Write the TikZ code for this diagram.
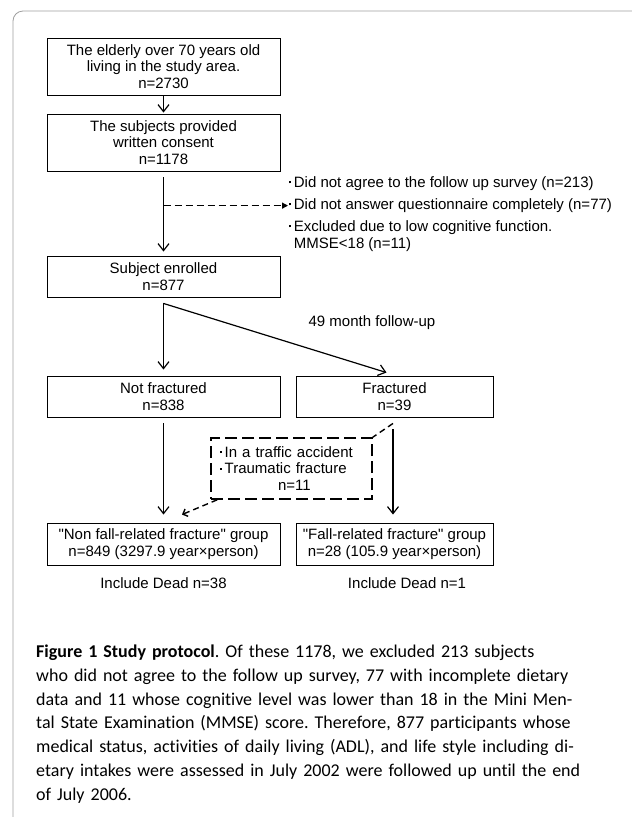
\documentclass[tikz,border=0pt]{standalone}
\usepackage{fontspec}
\setmainfont{Liberation Sans}
\newfontfamily\capfont[Ligatures={NoCommon}]{Carlito}
\usetikzlibrary{arrows.meta,calc}

\newcommand{\bul}{\rule[0.28em]{2.2pt}{2.2pt}\hspace{2.5pt}}

\begin{document}
\frenchspacing
\begin{tikzpicture}[x=1pt,y=-1pt,
  font=\fontsize{15}{16.7}\selectfont,
  box/.style={draw,line width=0.9pt,minimum width=233pt,inner sep=0pt,align=center},
  smallbox/.style={box,minimum width=197pt},
  listtext/.style={anchor=base west,inner sep=0pt},
  dashbox/.style={draw,line width=1.6pt,dash pattern=on 12pt off 5pt,minimum height=61pt,
    text width=143pt,inner xsep=9pt,align=left},
  arr/.style={line width=1.2pt,-{Straight Barb[length=7pt,width=11pt]}},
  dasharr/.style={line width=1.2pt,dash pattern=on 7pt off 4pt,-{Triangle[length=6pt,width=6pt]}},
  dashline/.style={line width=1.4pt,dash pattern=on 6pt off 4pt},
  dasharrtwo/.style={dashline,-{Straight Barb[length=4pt,width=8pt]}}]

\useasboundingbox (0,0) rectangle (632,817);

% Frame
\draw[gray!75,line width=0.8pt,rounded corners=10pt] (632,11) -- (13,11) -- (13,817);

% Boxes
\node[box,minimum height=57pt] (elderly) at (163.5,66.5) {The elderly over 70 years old\\living in the study area.\\n=2730};
\node[box,minimum height=57pt] (consent) at (163.5,142.5) {The subjects provided\\written consent\\n=1178};
\node[box,minimum height=41pt] (enrolled) at (163.5,276.5) {Subject enrolled\\n=877};
\node[box,minimum height=41pt] (notfrac) at (163.5,396.5) {Not fractured\\n=838};
\node[smallbox,minimum height=41pt] (frac) at (394.5,396.5) {Fractured\\n=39};
\node[box,minimum height=42pt] (nonfall) at (163.5,544) {\textquotedbl Non fall-related fracture\textquotedbl{} group\\n=849 (3297.9 year×person)};
\node[smallbox,minimum height=42pt] (fall) at (394.5,544) {\textquotedbl Fall-related fracture\textquotedbl{} group\\n=28 (105.9 year×person)};

% Excluded
\foreach \i/\txt in {1/{Did not agree to the follow up survey (n=213)},
                     2/{Did not answer questionnaire completely (n=77)},
                     3/{Excluded due to low cognitive function.}} {
\node[listtext] (excl\i) at (289,{165.5+22*\i}) {\bul\txt};
}
\node[listtext] (mmse) at (289,248.5) {\phantom{\bul}MMSE<18 (n=11)};

% Traumatic box
\node[dashbox] (traffic) at (291.5,468.5) {\bul In a traffic accident\\\bul Traumatic fracture\\\hspace*{58pt}n=11};

% Labels
\node (followup) at (372,323) {49 month follow-up};
\node (deadnon) at (163.5,583) {Include Dead n=38};
\node (deadfall) at (407,583) {Include Dead n=1};

% Arrows
\coordinate (split) at ($(enrolled.south)+(0,6)$);
\coordinate (fractip) at ($(frac.north)+(-8,-3)$);
\coordinate (fracout) at ($(frac.south)+(-1.5,6)$);
\coordinate (trafout) at ($(traffic.south west)+(7,0)$);
\coordinate (nontip) at ($(nonfall.north)+(18.5,-8)$);

\draw[arr,shorten >=1pt] (elderly) -- (consent);
\draw[arr,shorten <=6pt,shorten >=4pt] (consent) -- (enrolled);
\draw[dasharr,shorten >=1pt] (consent.south |- excl2.west) -- (excl2.west);
\draw[arr,shorten >=6pt] (split) -- (notfrac);
\draw[arr] (split) -- (fractip);
\draw[arr,shorten <=6pt,shorten >=8pt] (notfrac) -- (nonfall);
\draw[arr,shorten <=6pt,shorten >=8pt] (fracout) -- (fracout |- fall.north);
\draw[dashline] (fracout) -- (traffic.north east);
\draw[dasharrtwo] (trafout) -- (nontip);

% Caption
\node[anchor=north west,inner sep=0pt,text width=524pt,align=left,
  font=\capfont\fontsize{18}{23.7}\selectfont] (caption) at (36,645) {%
\makebox[524pt][s]{\textbf{Figure 1 Study protocol}. Of these 1178, we excluded 213 subjects}\\
\makebox[524pt][s]{who did not agree to the follow up survey, 77 with incomplete dietary}\\
\makebox[524pt][s]{data and 11 whose cognitive level was lower than 18 in the Mini Men-}\\
\makebox[524pt][s]{tal State Examination (MMSE) score. Therefore, 877 participants whose}\\
\makebox[524pt][s]{medical status, activities of daily living (ADL), and life style including di-}\\
\makebox[524pt][s]{etary intakes were assessed in July 2002 were followed up until the end}\\
of July 2006.};

\end{tikzpicture}
\end{document}
